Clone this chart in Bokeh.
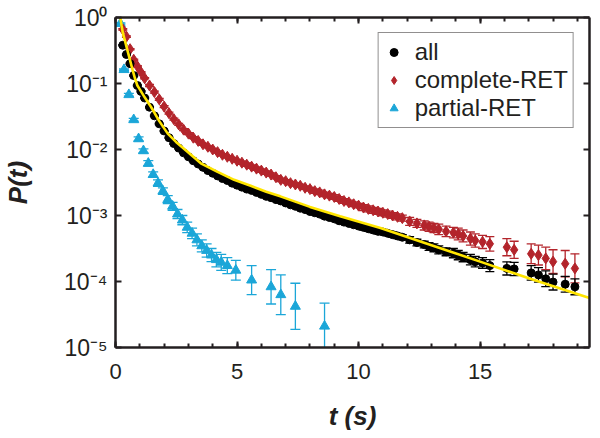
from bokeh.plotting import figure
from bokeh.models import (ColumnDataSource, Range1d, FixedTicker, LinearAxis, LogAxis,
                          Whisker, TeeHead, CustomJSTickFormatter)
from bokeh.embed import file_html
from bokeh.resources import INLINE

# ---------------- data ----------------
t_bins = [0.3, 0.45, 0.6, 0.75, 0.9, 1.05, 1.2,
          1.4, 1.6, 1.8, 2.0, 2.2, 2.4, 2.6, 2.8, 3.0, 3.2,
          3.4, 3.6, 3.8, 4.0,
          4.2, 4.4, 4.6, 4.8, 5.0,
          5.2, 5.4, 5.6, 5.8, 6.0,
          6.2, 6.4, 6.6, 6.8, 7.0,
          7.2, 7.4, 7.6, 7.8, 8.0,
          8.2, 8.4, 8.6, 8.8, 9.0,
          9.2, 9.4, 9.6, 9.8, 10.0,
          10.2, 10.4, 10.6, 10.8, 11.0,
          11.2, 11.4, 11.6, 11.8,
          12.1, 12.4, 12.7, 12.9, 13.1, 13.3, 13.6, 13.9, 14.1, 14.3, 14.6, 14.8, 15.1, 15.4,
          16.1, 16.4, 17.1, 17.4, 17.7, 18.0, 18.5, 18.9]

all_P = [0.380, 0.275, 0.200, 0.132, 0.0933, 0.0759, 0.0603,
         0.0437, 0.0324, 0.0245, 0.0191, 0.0151, 0.0123, 0.0105, 8.91e-3, 7.76e-3, 6.76e-3,
         6.03e-3, 5.37e-3, 4.79e-3, 4.37e-3,
         3.98e-3, 3.63e-3, 3.39e-3, 3.09e-3, 2.88e-3,
         2.69e-3, 2.51e-3, 2.40e-3, 2.24e-3, 2.09e-3,
         1.95e-3, 1.86e-3, 1.74e-3, 1.66e-3, 1.55e-3,
         1.45e-3, 1.38e-3, 1.29e-3, 1.23e-3, 1.15e-3,
         1.10e-3, 1.05e-3, 9.77e-4, 9.33e-4, 8.91e-4,
         8.32e-4, 7.94e-4, 7.59e-4, 7.24e-4, 6.92e-4,
         6.61e-4, 6.31e-4, 6.03e-4, 5.75e-4, 5.62e-4,
         5.37e-4, 5.13e-4, 4.90e-4, 4.68e-4,
         4.27e-4, 3.89e-4, 3.63e-4, 3.39e-4, 3.24e-4, 3.02e-4, 2.82e-4, 2.69e-4, 2.51e-4, 2.34e-4, 2.14e-4, 2.00e-4, 1.91e-4, 1.74e-4,
         1.58e-4, 1.55e-4, 1.35e-4, 1.26e-4, 1.10e-4, 9.8e-5, 9.1e-5, 8.3e-5]

# error bar half-widths in decades
all_err = [0.01, 0.01, 0.01, 0.01, 0.01, 0.01, 0.01,
           0.01, 0.01, 0.01, 0.01, 0.01, 0.01, 0.01, 0.01, 0.01, 0.01,
           0.01, 0.01, 0.01, 0.01,
           0.01, 0.01, 0.01, 0.01, 0.01,
           0.02, 0.02, 0.02, 0.02, 0.02,
           0.02, 0.02, 0.02, 0.02, 0.02,
           0.02, 0.02, 0.02, 0.02, 0.02,
           0.03, 0.03, 0.03, 0.03, 0.03,
           0.03, 0.03, 0.03, 0.03, 0.03,
           0.04, 0.04, 0.04, 0.04, 0.04,
           0.04, 0.04, 0.04, 0.04,
           0.05, 0.05, 0.05, 0.06, 0.06, 0.06, 0.06, 0.07, 0.07, 0.07, 0.08, 0.08, 0.08, 0.09,
           0.10, 0.10, 0.11, 0.11, 0.12, 0.12, 0.12, 0.12]

cret_P = [0.661, 0.513, 0.331, 0.229, 0.182, 0.148, 0.120,
          0.0933, 0.0741, 0.0575, 0.0447, 0.0355, 0.0288, 0.0240, 0.0200, 0.0174, 0.0151,
          0.0135, 0.0120, 0.0110, 0.0100,
          9.12e-3, 8.32e-3, 7.76e-3, 7.24e-3, 6.76e-3,
          6.31e-3, 5.89e-3, 5.50e-3, 5.13e-3, 4.79e-3,
          4.47e-3, 4.17e-3, 3.80e-3, 3.47e-3, 3.31e-3,
          3.09e-3, 2.95e-3, 2.82e-3, 2.63e-3, 2.51e-3,
          2.34e-3, 2.24e-3, 2.09e-3, 2.00e-3, 1.91e-3,
          1.78e-3, 1.66e-3, 1.58e-3, 1.48e-3, 1.41e-3,
          1.32e-3, 1.26e-3, 1.20e-3, 1.15e-3, 1.10e-3,
          1.05e-3, 1.00e-3, 9.55e-4, 9.12e-4,
          8.13e-4, 7.59e-4, 7.08e-4, 6.76e-4, 6.46e-4, 6.17e-4, 5.75e-4, 5.50e-4, 5.25e-4, 4.90e-4, 4.47e-4, 4.17e-4, 3.98e-4, 3.72e-4,
          3.31e-4, 3.02e-4, 2.63e-4, 2.51e-4, 2.24e-4, 2.00e-4, 1.86e-4, 1.58e-4]

cret_err = [0.01, 0.01, 0.01, 0.01, 0.01, 0.01, 0.01,
            0.015, 0.015, 0.015, 0.015, 0.015, 0.015, 0.015, 0.015, 0.015, 0.015,
            0.015, 0.015, 0.015, 0.015,
            0.015, 0.015, 0.015, 0.015, 0.015,
            0.025, 0.025, 0.025, 0.025, 0.025,
            0.025, 0.025, 0.025, 0.025, 0.025,
            0.025, 0.025, 0.025, 0.025, 0.025,
            0.035, 0.035, 0.035, 0.035, 0.035,
            0.035, 0.035, 0.035, 0.035, 0.035,
            0.045, 0.045, 0.045, 0.045, 0.045,
            0.045, 0.045, 0.045, 0.045,
            0.06, 0.06, 0.07, 0.07, 0.07, 0.08, 0.08, 0.08, 0.09, 0.09, 0.10, 0.10, 0.10, 0.11,
            0.13, 0.13, 0.15, 0.15, 0.17, 0.18, 0.20, 0.22]

pret_t = [0.2, 0.35, 0.55, 0.75, 0.95, 1.15, 1.35, 1.55, 1.75, 1.95,
          2.15, 2.35, 2.55, 2.75, 2.95, 3.15, 3.35, 3.55, 3.75, 3.95,
          4.15, 4.35, 4.6, 4.95, 5.6, 6.4, 6.8, 7.4, 8.6]
pret_P = [0.81, 0.162, 0.0676, 0.0282, 0.0145, 9.55e-3, 6.17e-3, 4.17e-3, 3.09e-3, 2.34e-3,
          1.74e-3, 1.38e-3, 1.05e-3, 8.51e-4, 6.61e-4, 5.37e-4, 4.27e-4, 3.47e-4, 2.95e-4, 2.51e-4,
          2.14e-4, 1.95e-4, 1.74e-4, 1.48e-4, 1.05e-4, 8.3e-5, 6.3e-5, 4.2e-5, 2.1e-5]
pret_err = [0.01, 0.01, 0.02, 0.02, 0.03, 0.03, 0.04, 0.04, 0.05, 0.05,
            0.06, 0.06, 0.07, 0.07, 0.08, 0.08, 0.09, 0.09, 0.10, 0.10,
            0.11, 0.12, 0.12, 0.15, 0.22, 0.26, 0.30, 0.35, 0.35]

fit_t = [0.2, 0.25, 0.3, 0.4, 0.5, 0.6, 0.7, 0.8, 0.9, 1.0, 1.2, 1.47, 1.8, 2.15, 2.5,
         2.83, 3.2, 3.51, 4.2, 4.88, 5.56, 6.2, 6.78, 8.0, 9.24, 10.9, 13.0, 15.0, 17.0, 19.5]
fit_P = [1.0, 0.759, 0.589, 0.427, 0.309, 0.224, 0.162, 0.120, 0.0933, 0.0813, 0.0617, 0.0437,
         0.0269, 0.0174, 0.0129, 0.0102, 7.76e-3, 6.17e-3, 4.57e-3, 3.47e-3, 2.82e-3, 2.29e-3,
         1.95e-3, 1.35e-3, 9.77e-4, 6.46e-4, 3.55e-4, 2.00e-4, 1.12e-4, 5.62e-5]

series_labels = ["all", "complete-RET", "partial-RET"]
x_major = [0, 5, 10, 15]
x_minor = [0, 1, 2, 3, 4, 5, 6, 7, 8, 9, 10, 11, 12, 13, 14, 15, 16, 17, 18, 19]
y_major = [1e-5, 1e-4, 1e-3, 1e-2, 1e-1, 1]

# ---------------- styling ----------------
FONT = "Liberation Sans"
AXC = "#231F20"
RED = "#B3242B"
BLUE = "#1BA6D8"
YEL = "#FFE500"


def make_src(t, P, err):
    lo = [p * 10 ** (-e) for p, e in zip(P, err)]
    hi = [p * 10 ** (e) for p, e in zip(P, err)]
    return ColumnDataSource(dict(t=t, P=P, lo=lo, hi=hi))


p = figure(width=595, height=433, x_range=Range1d(0, 19.5), y_range=Range1d(1e-5, 1),
           y_axis_type="log", output_backend="svg", toolbar_location=None,
           min_border_left=112, min_border_right=6, min_border_top=17, min_border_bottom=82)
p.xgrid.visible = False
p.ygrid.visible = False
p.outline_line_color = None
p.background_fill_color = "white"

xt = FixedTicker(ticks=x_major, minor_ticks=x_minor)
yt = FixedTicker(ticks=y_major, minor_ticks=[])

fmt = CustomJSTickFormatter(code=r"""
const e = Math.round(Math.log10(tick));
const m = {'0':'\u2070','1':'\u00b9','2':'\u00b2','3':'\u00b3','4':'\u2074','5':'\u2075','-':'\u207b'};
let s = '';
for (const c of String(e)) { s += m[c]; }
return '10' + s;
""")


def style_axis(ax, labels=True):
    ax.axis_line_width = 2.5
    ax.axis_line_color = AXC
    ax.major_tick_line_color = AXC
    ax.minor_tick_line_color = AXC
    ax.major_tick_line_width = 2
    ax.minor_tick_line_width = 2
    ax.major_tick_in = 6
    ax.major_tick_out = 0
    ax.minor_tick_in = 4
    ax.minor_tick_out = 0
    ax.major_label_text_font = FONT
    ax.major_label_text_color = AXC
    if labels:
        ax.major_label_text_font_size = "22px"
    else:
        ax.major_label_text_font_size = "1px"
        ax.major_label_text_alpha = 0
        ax.major_label_standoff = 0


xa = p.xaxis[0]
xa.ticker = xt
style_axis(xa)
xa.major_label_standoff = 16
xa.axis_label = "t (s)"
xa.axis_label_text_font = FONT
xa.axis_label_text_font_style = "bold italic"
xa.axis_label_text_font_size = "26px"
xa.axis_label_text_color = AXC
xa.axis_label_standoff = 19

ya = p.yaxis[0]
ya.ticker = yt
ya.formatter = fmt
style_axis(ya)
ya.major_label_text_font_size = "23px"
ya.major_label_standoff = 8
ya.axis_label = "P(t)"
ya.axis_label_text_font = FONT
ya.axis_label_text_font_style = "bold italic"
ya.axis_label_text_font_size = "26px"
ya.axis_label_text_color = AXC
ya.axis_label_standoff = 28

top = LinearAxis(ticker=xt)
style_axis(top, labels=False)
p.add_layout(top, "above")
right = LogAxis(ticker=yt)
style_axis(right, labels=False)
p.add_layout(right, "right")

# ---------------- data glyphs ----------------
src_b = make_src(pret_t, pret_P, pret_err)
src_r = make_src(t_bins, cret_P, cret_err)
src_k = make_src(t_bins, all_P, all_err)

for src, col, hs in [(src_b, BLUE, 10), (src_r, RED, 9), (src_k, "black", 9)]:
    w = Whisker(source=src, base="t", upper="hi", lower="lo", dimension="height",
                line_color=col, line_width=1.3,
                upper_head=TeeHead(size=hs, line_color=col, line_width=1.3),
                lower_head=TeeHead(size=hs, line_color=col, line_width=1.3))
    p.add_layout(w)

p.scatter("t", "P", source=src_b, marker="triangle", size=10, fill_color=BLUE,
          line_color=BLUE, legend_label=series_labels[2])
p.scatter("t", "P", source=src_r, marker="diamond", size=11, fill_color=RED,
          line_color=RED, legend_label=series_labels[1])
p.scatter("t", "P", source=src_k, marker="circle", size=8, fill_color="black",
          line_color="black", legend_label=series_labels[0])

p.line(fit_t, fit_P, line_color=YEL, line_width=2.6)

# ---------------- legend ----------------
lg = p.legend[0]
lg.items = [lg.items[2], lg.items[1], lg.items[0]]
lg.location = "top_right"
lg.margin = 15
lg.padding = 5
lg.spacing = 0
lg.label_standoff = 11
lg.glyph_width = 20
lg.label_text_font = FONT
lg.label_text_font_size = "24px"
lg.label_text_color = AXC
lg.label_height = 26
lg.border_line_color = AXC
lg.border_line_width = 1.5
lg.background_fill_alpha = 1

open("out.html", "w").write(file_html(p, INLINE))
